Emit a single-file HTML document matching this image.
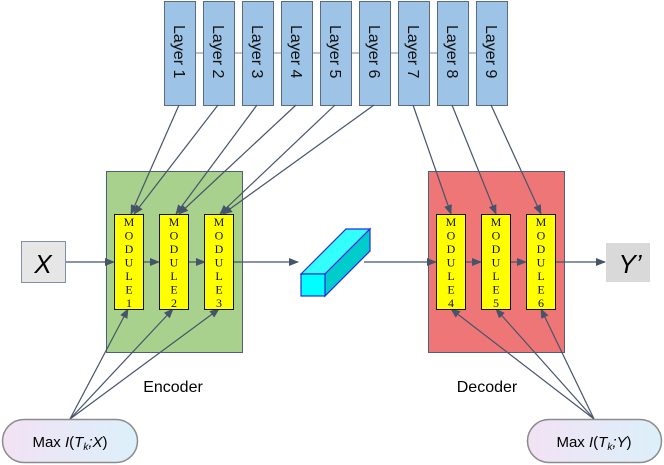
<!DOCTYPE html><html><head><style>body{margin:0;background:#fff}svg{display:block}</style></head><body>
<svg width="664" height="465" viewBox="0 0 664 465" xmlns="http://www.w3.org/2000/svg" font-family="Liberation Sans, sans-serif">
<defs>
<marker id="a" markerWidth="10" markerHeight="8" refX="9" refY="4" orient="auto" markerUnits="userSpaceOnUse"><path d="M0,0 L10,4 L0,8 z" fill="#46546a"/></marker>
<linearGradient id="g" x1="0" x2="1"><stop offset="0" stop-color="#f2e2f4"/><stop offset="1" stop-color="#dcf0fa"/></linearGradient>
</defs>
<line x1="164" y1="53" x2="506" y2="53" stroke="#7a8696" stroke-width="1"/>
<g fill="#9dc3e6" stroke="#5a6a80" stroke-width="1">
<rect x="164.5" y="1.5" width="31" height="104"/><rect x="203.5" y="1.5" width="31" height="104"/><rect x="242.5" y="1.5" width="31" height="104"/><rect x="281.5" y="1.5" width="31" height="104"/><rect x="320.5" y="1.5" width="31" height="104"/><rect x="359.5" y="1.5" width="31" height="104"/><rect x="398.5" y="1.5" width="31" height="104"/><rect x="437.5" y="1.5" width="31" height="104"/><rect x="476.5" y="1.5" width="31" height="104"/>
</g>
<g font-size="16" fill="#111">
<text transform="translate(174,25) rotate(90)">Layer 1</text><text transform="translate(213,25) rotate(90)">Layer 2</text><text transform="translate(252,25) rotate(90)">Layer 3</text><text transform="translate(291,25) rotate(90)">Layer 4</text><text transform="translate(330,25) rotate(90)">Layer 5</text><text transform="translate(369,25) rotate(90)">Layer 6</text><text transform="translate(408,25) rotate(90)">Layer 7</text><text transform="translate(447,25) rotate(90)">Layer 8</text><text transform="translate(486,25) rotate(90)">Layer 9</text>
</g>
<rect x="106.5" y="171.5" width="136" height="181" fill="#a9d18e" stroke="#4f5f78"/>
<rect x="428.5" y="171.5" width="136" height="181" fill="#ef7676" stroke="#4f5f78"/>
<rect x="21.5" y="241.5" width="44" height="41" fill="#e6e6e6" stroke="#8090a6"/>
<text x="43" y="273" font-size="26" font-style="italic" text-anchor="middle">X</text>
<rect x="606" y="243" width="44" height="39" fill="#d9d9d9"/>
<text x="630" y="273" font-size="26" font-style="italic" text-anchor="middle">Y’</text>
<g stroke="#46546a" stroke-width="1.2" fill="none" marker-end="url(#a)">
<line x1="66" y1="262" x2="114" y2="262"/><line x1="143" y1="262" x2="159" y2="262"/><line x1="189" y1="262" x2="205" y2="262"/><line x1="234" y1="262" x2="298" y2="262"/>
<line x1="364" y1="262" x2="436" y2="262"/><line x1="466" y1="262" x2="481" y2="262"/><line x1="511" y1="262" x2="526" y2="262"/><line x1="556" y1="262" x2="605" y2="262"/>
<line x1="179" y1="105" x2="131" y2="214"/><line x1="218" y1="105" x2="134" y2="214"/><line x1="257" y1="105" x2="176" y2="214"/><line x1="296" y1="105" x2="179" y2="214"/><line x1="335" y1="105" x2="220" y2="214"/><line x1="374" y1="105" x2="223" y2="214"/>
<line x1="413" y1="105" x2="451" y2="214"/><line x1="452" y1="105" x2="496" y2="214"/><line x1="491" y1="105" x2="541" y2="214"/>
<line x1="70" y1="419" x2="128" y2="309"/><line x1="70" y1="419" x2="173" y2="309"/><line x1="70" y1="419" x2="219" y2="309"/>
<line x1="594" y1="419" x2="451" y2="309"/><line x1="594" y1="419" x2="496" y2="309"/><line x1="594" y1="419" x2="541" y2="309"/>
</g>
<g fill="#ffff00" stroke="#111" stroke-width="1">
<rect x="114.5" y="214.5" width="29" height="95"/><rect x="159.5" y="214.5" width="29" height="95"/><rect x="204.5" y="214.5" width="29" height="95"/>
<rect x="436.5" y="214.5" width="29" height="95"/><rect x="481.5" y="214.5" width="29" height="95"/><rect x="526.5" y="214.5" width="29" height="95"/>
</g>
<g font-family="Liberation Serif, serif" font-size="12" text-anchor="middle" fill="#111">
<text x="129" y="226"><tspan x="129">M</tspan><tspan x="129" dy="13.5">O</tspan><tspan x="129" dy="13.5">D</tspan><tspan x="129" dy="13.5">U</tspan><tspan x="129" dy="13.5">L</tspan><tspan x="129" dy="13.5">E</tspan><tspan x="129" dy="13.5">1</tspan></text>
<text x="174" y="226"><tspan x="174">M</tspan><tspan x="174" dy="13.5">O</tspan><tspan x="174" dy="13.5">D</tspan><tspan x="174" dy="13.5">U</tspan><tspan x="174" dy="13.5">L</tspan><tspan x="174" dy="13.5">E</tspan><tspan x="174" dy="13.5">2</tspan></text>
<text x="219" y="226"><tspan x="219">M</tspan><tspan x="219" dy="13.5">O</tspan><tspan x="219" dy="13.5">D</tspan><tspan x="219" dy="13.5">U</tspan><tspan x="219" dy="13.5">L</tspan><tspan x="219" dy="13.5">E</tspan><tspan x="219" dy="13.5">3</tspan></text>
<text x="451" y="226"><tspan x="451">M</tspan><tspan x="451" dy="13.5">O</tspan><tspan x="451" dy="13.5">D</tspan><tspan x="451" dy="13.5">U</tspan><tspan x="451" dy="13.5">L</tspan><tspan x="451" dy="13.5">E</tspan><tspan x="451" dy="13.5">4</tspan></text>
<text x="496" y="226"><tspan x="496">M</tspan><tspan x="496" dy="13.5">O</tspan><tspan x="496" dy="13.5">D</tspan><tspan x="496" dy="13.5">U</tspan><tspan x="496" dy="13.5">L</tspan><tspan x="496" dy="13.5">E</tspan><tspan x="496" dy="13.5">5</tspan></text>
<text x="541" y="226"><tspan x="541">M</tspan><tspan x="541" dy="13.5">O</tspan><tspan x="541" dy="13.5">D</tspan><tspan x="541" dy="13.5">U</tspan><tspan x="541" dy="13.5">L</tspan><tspan x="541" dy="13.5">E</tspan><tspan x="541" dy="13.5">6</tspan></text>
</g>
<g stroke="#2a2ae0" stroke-width="1.2">
<polygon points="301,274 346,229 370,229 325,274" fill="#33ffff"/>
<polygon points="325,274 370,229 370,251 325,296" fill="#00cccc"/>
<rect x="301" y="274" width="24" height="22" fill="#00ffff"/>
</g>
<text x="173" y="392" font-size="16" text-anchor="middle">Encoder</text>
<text x="487" y="392" font-size="16" text-anchor="middle">Decoder</text>
<rect x="2.5" y="419.5" width="135" height="43" rx="21.5" fill="url(#g)" stroke="#8c8c8c" stroke-width="1.5"/>
<rect x="527.5" y="419.5" width="134" height="43" rx="21.5" fill="url(#g)" stroke="#8c8c8c" stroke-width="1.5"/>
<text x="70" y="447" font-size="15" text-anchor="middle">Max <tspan font-style="italic">I</tspan>(<tspan font-style="italic">T</tspan><tspan font-size="10" dy="3" font-style="italic">k</tspan><tspan dy="-3" font-style="italic">;X</tspan>)</text>
<text x="594" y="447" font-size="15" text-anchor="middle">Max <tspan font-style="italic">I</tspan>(<tspan font-style="italic">T</tspan><tspan font-size="10" dy="3" font-style="italic">k</tspan><tspan dy="-3" font-style="italic">;Y</tspan>)</text>
</svg>
</body></html>
